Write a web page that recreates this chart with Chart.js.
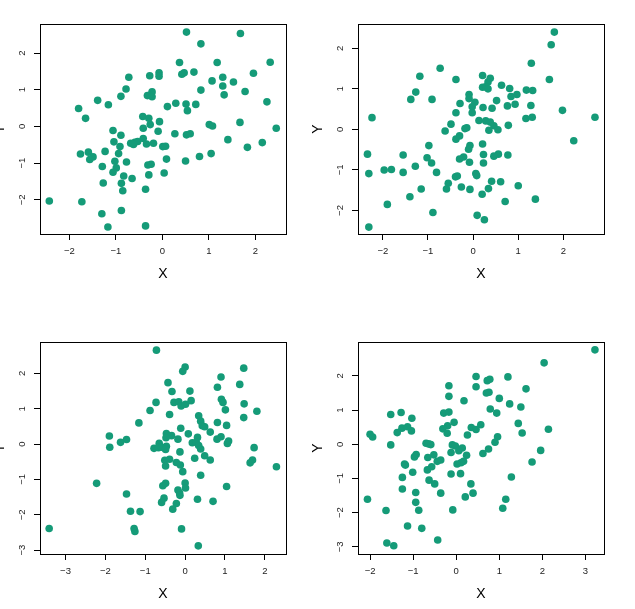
<!DOCTYPE html>
<html>
<head>
<meta charset="utf-8">
<script src="https://cdn.jsdelivr.net/npm/chart.js@4"></script>
<style>
html,body{margin:0;padding:0;background:#fff;}
#wrap{position:relative;width:635px;height:609px;overflow:hidden;background:#fff;}
canvas{position:absolute;}
</style>
</head>
<body>
<div id="wrap">
<canvas id="c1" width="320" height="300" style="left:-20px;top:0px"></canvas>
<canvas id="c2" width="320" height="300" style="left:298px;top:0px"></canvas>
<canvas id="c3" width="320" height="309" style="left:-20px;top:300px"></canvas>
<canvas id="c4" width="320" height="309" style="left:298px;top:300px"></canvas>
</div>
<script>
// Panel 1 (top-left)
const x1 = [0.52,1.68,0.83,0.37,1.18,2.32,0.68,0.47,0.42,-0.07,-0.07,-0.27,-0.72,1.96,1.30,1.07,1.53,1.30,-0.78,0.83,1.78,1.33,-0.22,-0.27,-0.32,-0.22,-0.89,-1.39,-1.16,-1.80,0.11,0.29,0.51,0.72,0.54,2.25,-1.65,-0.42,-0.29,-0.06,-0.26,-0.41,-0.09,-1.06,1.01,1.08,1.67,2.45,-0.89,0.27,0.52,0.60,1.41,-0.41,-1.04,-0.68,-0.59,-0.53,-0.62,-0.34,-0.19,-0.91,0.01,0.07,2.15,1.83,-1.76,-1.59,-1.49,-1.56,-1.23,-0.94,1.05,0.80,-1.02,-0.77,0.09,0.50,-1.29,-0.99,-0.31,-0.24,-1.06,-0.83,-0.29,0.04,-0.65,-1.27,-0.88,-0.85,-0.36,-2.43,-1.73,-0.88,-1.30,-1.17,-0.36];
const y1 = [2.57,2.53,2.25,1.74,1.74,1.75,1.48,1.46,1.42,1.46,1.37,1.38,1.34,1.45,1.34,1.24,1.21,1.10,1.02,0.99,0.95,0.86,0.94,0.85,0.84,0.81,0.82,0.71,0.59,0.49,0.54,0.63,0.61,0.60,0.43,0.67,0.22,0.27,0.22,0.13,0.05,-0.05,-0.13,-0.11,0.05,0.01,0.11,-0.05,-0.24,-0.20,-0.23,-0.20,-0.36,-0.33,-0.42,-0.46,-0.43,-0.41,-0.49,-0.48,-0.46,-0.55,-0.55,-0.54,-0.44,-0.57,-0.75,-0.70,-0.83,-0.90,-0.68,-0.74,-0.74,-0.82,-0.95,-0.97,-0.89,-0.94,-1.09,-1.13,-1.05,-1.03,-1.25,-1.35,-1.32,-1.27,-1.42,-1.54,-1.55,-1.75,-1.71,-2.03,-2.05,-2.29,-2.38,-2.74,-2.71];

// Panel 2 (top-right)
const x2 = [1.80,1.73,1.29,-0.73,-1.18,0.21,-0.38,0.38,0.33,1.69,0.21,0.28,0.33,0.63,0.81,1.18,1.32,-1.27,-0.09,0.97,0.84,-1.38,-0.91,-0.09,0.52,0.04,-0.29,0.76,0.93,1.28,-0.02,0.22,0.42,1.98,-0.38,-0.02,-2.24,1.17,1.31,2.70,0.13,0.28,0.38,-0.49,0.78,0.46,-0.14,-0.18,-0.62,0.35,0.55,-0.30,-0.38,2.23,0.21,-0.98,-0.07,-0.10,-2.34,-1.55,0.23,0.56,0.46,0.77,-1.02,-0.21,-0.30,-0.92,-0.08,0.23,-1.28,-1.97,-1.81,-0.81,-1.55,-2.31,0.06,0.08,-0.39,-0.35,0.41,0.61,-0.55,1.00,-0.26,-0.59,-1.15,-0.07,0.34,0.20,-1.40,1.38,0.71,-1.90,-0.89,0.09,0.25,-2.31];
const y2 = [2.40,2.09,1.63,1.51,1.31,1.33,1.23,1.26,1.17,1.23,1.04,1.05,1.00,1.09,1.01,0.97,0.96,0.92,0.86,0.86,0.81,0.74,0.74,0.76,0.71,0.67,0.64,0.58,0.62,0.59,0.56,0.54,0.52,0.47,0.41,0.41,0.29,0.27,0.30,0.30,0.22,0.21,0.18,0.13,0.10,0.09,0.04,0.02,-0.04,-0.02,-0.01,-0.16,-0.24,-0.28,-0.36,-0.40,-0.40,-0.49,-0.61,-0.63,-0.62,-0.61,-0.66,-0.63,-0.70,-0.68,-0.73,-0.83,-0.81,-0.83,-0.91,-1.00,-0.99,-1.06,-1.06,-1.09,-1.09,-1.14,-1.17,-1.15,-1.28,-1.29,-1.33,-1.39,-1.42,-1.47,-1.47,-1.48,-1.46,-1.60,-1.66,-1.72,-1.78,-1.85,-2.05,-2.12,-2.23,-2.41];

// Panel 3 (bottom-left)
const x3 = [-0.72,0.00,-0.06,1.47,-0.43,0.90,1.37,0.81,-0.33,0.12,0.91,0.95,-0.28,-0.16,-0.10,0.01,0.15,-0.73,1.48,1.80,1.01,-0.88,-0.39,0.34,0.39,1.47,-1.16,0.81,0.43,0.49,1.04,-0.11,0.63,0.08,-0.47,-0.34,-0.48,-1.90,-1.47,-1.62,-0.18,0.31,0.90,0.80,1.09,1.06,0.18,0.28,0.34,-0.65,-0.78,-1.89,-0.67,-0.59,-0.47,-0.49,0.39,1.73,-0.13,0.49,0.24,0.63,-0.39,-0.51,1.69,1.63,-0.22,-0.12,-0.49,2.29,-0.06,0.39,-0.49,-0.56,0.00,0.01,-2.22,1.04,-0.18,-0.14,-0.13,-1.47,0.31,-0.53,0.70,-0.59,-0.22,-0.31,-1.37,-1.13,-3.41,-1.28,-1.26,-0.09,0.33];
const y3 = [2.66,2.18,2.06,2.15,1.74,1.90,1.69,1.61,1.49,1.50,1.27,1.18,1.18,1.20,1.08,1.13,1.23,1.18,1.14,0.93,0.97,0.95,0.84,0.80,0.65,0.75,0.60,0.61,0.52,0.49,0.53,0.45,0.34,0.29,0.30,0.24,0.18,0.23,0.13,0.05,0.14,0.19,0.21,0.14,0.09,0.02,0.04,0.05,-0.04,0.02,-0.12,-0.09,-0.10,-0.09,-0.06,-0.15,-0.14,-0.10,-0.22,-0.33,-0.40,-0.45,-0.43,-0.46,-0.45,-0.53,-0.52,-0.59,-0.62,-0.64,-0.78,-0.88,-1.11,-1.18,-1.10,-1.24,-1.11,-1.20,-1.30,-1.38,-1.45,-1.41,-1.56,-1.53,-1.62,-1.65,-1.68,-1.84,-1.90,-1.91,-2.39,-2.39,-2.47,-2.40,-2.88];

// Panel 4 (bottom-right)
const x4 = [3.22,2.04,0.46,1.20,0.72,0.78,-0.17,0.46,1.62,0.70,0.76,-0.17,1.00,0.18,1.24,1.50,0.79,-1.28,-0.29,-0.17,0.94,-1.52,-1.03,-0.05,0.57,-0.20,1.44,0.35,0.46,-0.31,-1.26,-1.13,-1.04,-1.37,-0.21,2.14,1.53,0.26,-2.00,-1.94,0.96,0.90,-0.70,-0.64,-0.59,-1.52,-0.09,-0.02,0.14,0.06,1.96,0.75,-0.12,-0.93,-0.97,-0.52,-0.66,0.24,0.62,-0.44,-0.36,0.17,0.11,0.02,-1.20,-1.18,1.76,-0.57,-0.67,-1.01,-0.12,0.10,-1.25,1.28,-0.63,-0.50,0.34,-1.25,-0.94,-0.36,0.39,0.21,-2.06,1.15,-0.94,1.08,-1.63,-0.87,-0.08,-1.13,-0.80,-0.43,-1.61,-1.45];
const y4 = [2.76,2.38,1.98,1.97,1.86,1.90,1.71,1.68,1.62,1.50,1.52,1.40,1.34,1.27,1.18,1.09,1.03,0.93,0.91,0.94,0.91,0.87,0.76,0.64,0.57,0.54,0.61,0.49,0.43,0.45,0.47,0.51,0.39,0.34,0.32,0.44,0.33,0.27,0.29,0.21,0.22,0.06,0.03,0.01,-0.01,-0.02,-0.02,-0.05,-0.11,-0.19,-0.18,-0.14,-0.24,-0.30,-0.37,-0.31,-0.39,-0.32,-0.27,-0.50,-0.46,-0.50,-0.54,-0.58,-0.58,-0.61,-0.52,-0.66,-0.75,-0.82,-0.87,-0.86,-0.97,-0.96,-1.05,-1.16,-1.16,-1.31,-1.41,-1.43,-1.43,-1.54,-1.61,-1.61,-1.70,-1.87,-1.94,-1.93,-1.92,-2.39,-2.46,-2.80,-2.89,-2.97];

// Tick values per panel
const xt1 = [-2,-1,0,1,2],    yt1 = [-2,-1,0,1,2];
const xt2 = [-2,-1,0,1,2],    yt2 = [-2,-1,0,1,2];
const xt3 = [-3,-2,-1,0,1,2], yt3 = [-3,-2,-1,0,1,2];
const xt4 = [-2,-1,0,1,2,3],  yt4 = [-3,-2,-1,0,1,2];

// Axis limits
const lim1 = {x:[-2.63,2.66], y:[-2.93,2.79]};
const lim2 = {x:[-2.55,2.90], y:[-2.58,2.60]};
const lim3 = {x:[-3.64,2.53], y:[-3.11,2.89]};
const lim4 = {x:[-2.28,3.43], y:[-3.21,2.99]};

const POINT_COLOR = '#159b78';
const FONT = '"Liberation Sans", Arial, Helvetica, sans-serif';

const boxPlugin = {
  id: 'box',
  afterDraw(chart) {
    const a = chart.chartArea, ctx = chart.ctx;
    ctx.save();
    ctx.strokeStyle = '#000';
    ctx.lineWidth = 1;
    ctx.strokeRect(Math.round(a.left) + 0.5, Math.round(a.top) + 0.5,
                   Math.round(a.right - a.left), Math.round(a.bottom - a.top));
    ctx.restore();
  }
};

function fmt(v) { return String(v).replace('-', '\u2212'); }

function makeChart(id, xs, ys, lim, xt, yt, pad) {
  const pts = xs.map((x, i) => ({x: x, y: ys[i]}));
  new Chart(document.getElementById(id), {
    type: 'scatter',
    data: { datasets: [{ data: pts, backgroundColor: POINT_COLOR, borderWidth: 0,
                         pointRadius: 3.8, pointHoverRadius: 3.8 }] },
    options: {
      responsive: false, animation: false, events: [],
      layout: { padding: pad },
      plugins: { legend: {display: false}, tooltip: {enabled: false} },
      scales: {
        x: {
          type: 'linear', position: 'bottom', min: lim.x[0], max: lim.x[1],
          afterFit: s => { s.height = 50; },
          afterBuildTicks: s => { s.ticks = xt.map(v => ({value: v})); },
          ticks: { color: '#222', padding: 6, autoSkip: false,
                   font: {family: FONT, size: 9.5}, callback: fmt, maxRotation: 0 },
          grid: { drawOnChartArea: false, drawTicks: true, tickLength: 6, color: '#000', tickWidth: 1 },
          border: { display: true, color: '#000', width: 1 },
          title: { display: true, text: 'X', color: '#000', font: {family: FONT, size: 14},
                   padding: {top: 0, bottom: 1.6} }
        },
        y: {
          type: 'linear', position: 'left', min: lim.y[0], max: lim.y[1],
          afterFit: s => { s.width = 60; },
          afterBuildTicks: s => { s.ticks = yt.map(v => ({value: v})); },
          ticks: { color: '#222', padding: 6, autoSkip: false,
                   minRotation: 90, maxRotation: 90, crossAlign: 'center',
                   font: {family: FONT, size: 9.5}, callback: fmt },
          grid: { drawOnChartArea: false, drawTicks: true, tickLength: 6, color: '#000', tickWidth: 1 },
          border: { display: true, color: '#000', width: 1 },
          title: { display: true, text: 'Y', color: '#000', font: {family: FONT, size: 14},
                   padding: {top: 11.6, bottom: 0} }
        }
      }
    },
    plugins: [boxPlugin]
  });
}

makeChart('c1', x1, y1, lim1, xt1, yt1, {left: 0, right: 14, top: 24, bottom: 16});
makeChart('c2', x2, y2, lim2, xt2, yt2, {left: 0, right: 14, top: 24, bottom: 16});
makeChart('c3', x3, y3, lim3, xt3, yt3, {left: 0, right: 14, top: 42, bottom: 5});
makeChart('c4', x4, y4, lim4, xt4, yt4, {left: 0, right: 14, top: 42, bottom: 5});
</script>
</body>
</html>
